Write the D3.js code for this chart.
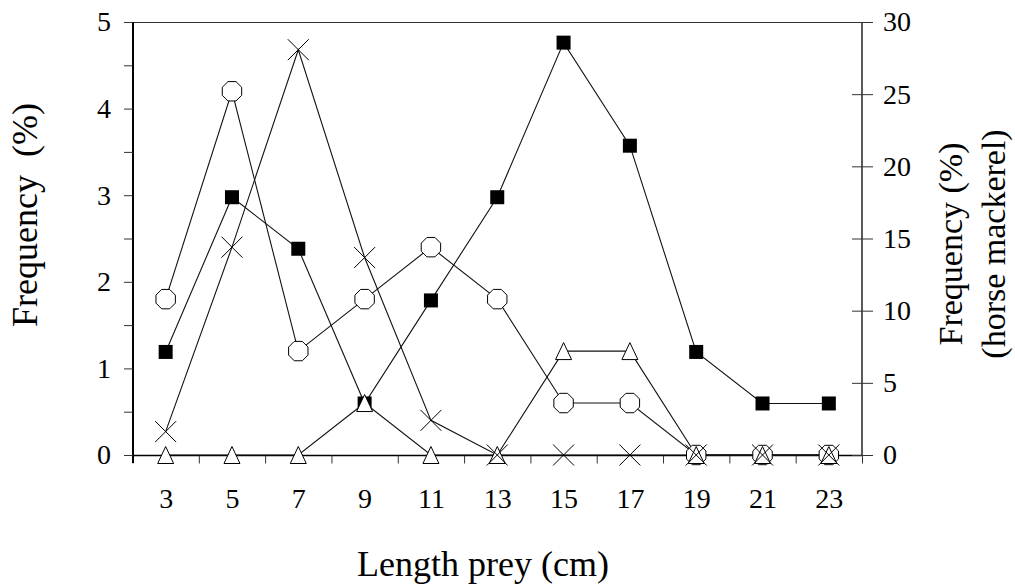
<!DOCTYPE html>
<html>
<head>
<meta charset="utf-8">
<script src="https://cdn.jsdelivr.net/npm/d3@7"></script>
</head>
<body style="margin:0">
<div id="chart"></div>
<script>
// prey length classes (cm)
const lengths = [3, 5, 7, 9, 11, 13, 15, 17, 19, 21, 23];
// left axis series (%)
const octagonVals = [1.8, 4.2, 1.2, 1.8, 2.4, 1.8, 0.6, 0.6, 0, 0, 0];
const crossVals = [0.27, 2.4, 4.68, 2.28, 0.4, 0, 0, 0, 0, 0, 0];
const triangleVals = [0, 0, 0, 0.6, 0, 0, 1.2, 1.2, 0, 0, 0];
// right axis series, horse mackerel (%)
const mackerelVals = [7.14, 17.86, 14.29, 3.57, 10.71, 17.86, 28.57, 21.43, 7.14, 3.57, 3.57];
const leftTicks = [0, 1, 2, 3, 4, 5];
const leftMinor = [0.5, 1.5, 2.5, 3.5, 4.5];
const rightTicks = [0, 5, 10, 15, 20, 25, 30];
const xBounds = [2, 4, 6, 8, 10, 12, 14, 16, 18, 20, 22, 24];

const FONT = "Liberation Serif";
const W = 1015, H = 584;
const svg = d3.select("#chart").append("svg").attr("width", W).attr("height", H)
    .style("display", "block");

const x = d3.scaleLinear().domain([2, 24]).range([132.5, 862]);
const yL = d3.scaleLinear().domain([0, 5]).range([455, 22]);
const yR = d3.scaleLinear().domain([0, 30]).range([455, 22]);

// frame top line
svg.append("line")
    .attr("x1", 124).attr("x2", 862).attr("y1", 22.5).attr("y2", 22.5)
    .attr("stroke", "#333").attr("stroke-width", 1.2);

// bottom axis: labels at class centres, ticks on class bounds
const xLab = svg.append("g").attr("transform", "translate(0,455)")
    .call(d3.axisBottom(x).tickValues(lengths).tickSize(0).tickPadding(33).tickFormat(d3.format("d")));
xLab.select(".domain").remove();
xLab.selectAll("text").attr("font-family", FONT).attr("font-size", 28).attr("fill", "#000");

const xTk = svg.append("g").attr("transform", "translate(0,455.5)")
    .call(d3.axisBottom(x).tickValues(xBounds).tickSize(8).tickFormat(""));
xTk.select(".domain").attr("d", "M132,0H862").attr("stroke", "#000").attr("stroke-width", 1.3);
xTk.selectAll(".tick line").attr("stroke", "#333");

// left axis
const yLg = svg.append("g").attr("transform", "translate(133,0)")
    .call(d3.axisLeft(yL).tickValues(leftTicks).tickSize(9).tickPadding(13).tickFormat(d3.format("d")));
yLg.select(".domain").attr("d", "M0,22V463").attr("stroke", "#000").attr("stroke-width", 2);
yLg.selectAll("text").attr("font-family", FONT).attr("font-size", 28).attr("fill", "#000");
yLg.selectAll(".tick line").attr("stroke", "#333");

svg.append("g").attr("transform", "translate(133,0)")
    .call(d3.axisLeft(yL).tickValues(leftMinor).tickSize(9).tickFormat(""))
    .call(g => g.select(".domain").remove())
    .selectAll(".tick line").attr("stroke", "#333");

// right axis, ticks cross the line
const yRg = svg.append("g").attr("transform", "translate(862,0)")
    .call(d3.axisRight(yR).tickValues(rightTicks).tickSize(11).tickPadding(10).tickFormat(d3.format("d")));
yRg.select(".domain").attr("d", "M0,22V455").attr("stroke", "#000").attr("stroke-width", 1.3);
yRg.selectAll(".tick line").attr("x1", -10).attr("stroke", "#333");
yRg.selectAll("text").attr("font-family", FONT).attr("font-size", 28).attr("fill", "#000");

// axis titles
svg.append("text")
    .attr("transform", "translate(37,215) rotate(-90)")
    .attr("text-anchor", "middle").attr("font-size", 36).attr("font-family", FONT)
    .style("white-space", "pre")
    .text("Frequency  (%)");

svg.append("text")
    .attr("x", 483).attr("y", 576)
    .attr("text-anchor", "middle").attr("font-size", 36).attr("font-family", FONT)
    .text("Length prey (cm)");

const rTitle = svg.append("text")
    .attr("transform", "translate(962,244) rotate(-90)")
    .attr("text-anchor", "middle").attr("font-size", 34).attr("font-family", FONT);
rTitle.append("tspan").attr("x", 0).attr("dy", 0).text("Frequency (%)");
rTitle.append("tspan").attr("x", 0).attr("dy", 43).text("(horse mackerel)");

// lines
const lineL = d3.line().x((d, i) => x(lengths[i])).y(d => yL(d));
const lineR = d3.line().x((d, i) => x(lengths[i])).y(d => yR(d));

const series = [
    { vals: mackerelVals, line: lineR },
    { vals: octagonVals, line: lineL },
    { vals: triangleVals, line: lineL },
    { vals: crossVals, line: lineL }
];
series.forEach(s => {
    svg.append("path").datum(s.vals).attr("d", s.line)
        .attr("fill", "none").attr("stroke", "#111").attr("stroke-width", 1.1);
});

// markers: squares
svg.append("g").selectAll("rect").data(mackerelVals).enter().append("rect")
    .attr("x", (d, i) => x(lengths[i]) - 7).attr("y", d => yR(d) - 7)
    .attr("width", 14).attr("height", 14).attr("fill", "#000");

// octagons
const octPts = d3.range(8).map(k => {
    const a = Math.PI / 8 + k * Math.PI / 4;
    return [10.5 * Math.cos(a), 10.5 * Math.sin(a)];
});
svg.append("g").selectAll("polygon").data(octagonVals).enter().append("polygon")
    .attr("points", octPts.map(p => p.join(",")).join(" "))
    .attr("transform", (d, i) => "translate(" + x(lengths[i]) + "," + yL(d) + ")")
    .attr("fill", "#fff").attr("stroke", "#000").attr("stroke-width", 1);

// triangles
svg.append("g").selectAll("path").data(triangleVals).enter().append("path")
    .attr("d", "M0,-8.5L8,8.5L-8,8.5Z")
    .attr("transform", (d, i) => "translate(" + x(lengths[i]) + "," + yL(d) + ")")
    .attr("fill", "#fff").attr("stroke", "#000").attr("stroke-width", 1);

// crosses
svg.append("g").selectAll("path").data(crossVals).enter().append("path")
    .attr("d", "M-10.5,-10.5L10.5,10.5M-10.5,10.5L10.5,-10.5")
    .attr("transform", (d, i) => "translate(" + x(lengths[i]) + "," + yL(d) + ")")
    .attr("fill", "none").attr("stroke", "#000").attr("stroke-width", 1);
</script>
</body>
</html>
